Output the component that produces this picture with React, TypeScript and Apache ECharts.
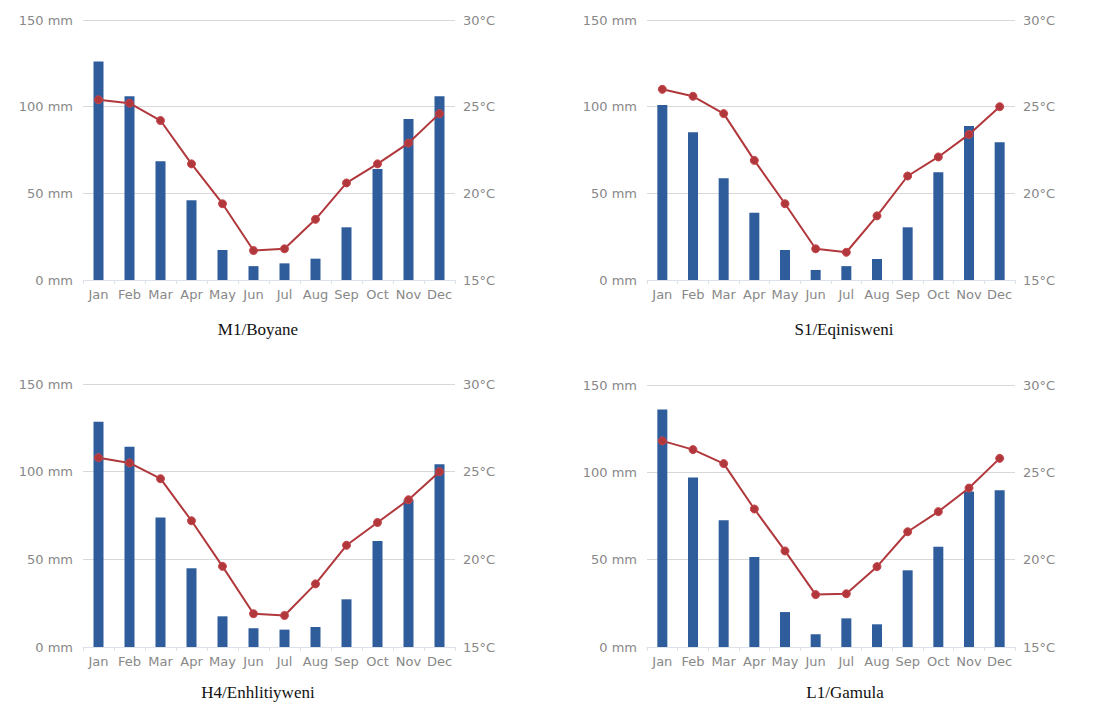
import React, { useEffect, useRef } from "react";
import * as echarts from "echarts";

const months = ["Jan", "Feb", "Mar", "Apr", "May", "Jun", "Jul", "Aug", "Sep", "Oct", "Nov", "Dec"];
const titles = ["M1/Boyane", "S1/Eqinisweni", "H4/Enhlitiyweni", "L1/Gamula"];

const rainM1 = [126, 106, 68.5, 46, 17.3, 8, 9.6, 12.3, 30.4, 64, 92.9, 106];
const rainS1 = [101, 85.2, 58.7, 38.8, 17.3, 5.8, 8, 12.1, 30.4, 62.1, 88.8, 79.4];
const rainH4 = [128.5, 114.2, 73.9, 44.9, 17.5, 10.7, 9.9, 11.4, 27.2, 60.5, 84, 104.3];
const rainL1 = [136, 97, 72.5, 51.5, 20, 7.3, 16.4, 13, 43.9, 57.4, 89, 89.7];

const tempM1 = [25.4, 25.2, 24.2, 21.7, 19.4, 16.7, 16.8, 18.5, 20.6, 21.7, 22.9, 24.6];
const tempS1 = [26.0, 25.6, 24.6, 21.9, 19.4, 16.8, 16.6, 18.7, 21.0, 22.1, 23.4, 25.0];
const tempH4 = [25.8, 25.5, 24.6, 22.2, 19.6, 16.9, 16.8, 18.6, 20.8, 22.1, 23.4, 25.0];
const tempL1 = [26.8, 26.3, 25.5, 22.9, 20.5, 18.0, 18.05, 19.6, 21.6, 22.75, 24.1, 25.8];

const rainAll = [rainM1, rainS1, rainH4, rainL1];
const tempAll = [tempM1, tempS1, tempH4, tempL1];

const gridPos = [
  { left: 83, top: 20, width: 372, height: 260 },
  { left: 647, top: 20, width: 368, height: 260 },
  { left: 83, top: 384, width: 372, height: 263 },
  { left: 647, top: 385, width: 368, height: 262 },
];
const titlePos = [
  { x: 258, y: 321 },
  { x: 844, y: 321 },
  { x: 258, y: 684 },
  { x: 845, y: 684 },
];

const BAR = "#2f5d9c";
const LINE = "#b0383c";
const LABEL = "#888888";
const FONT = "DejaVu Sans";

export default function App() {
  const ref = useRef<HTMLDivElement>(null);
  useEffect(() => {
    if (!ref.current) return;
    const chart = echarts.init(ref.current, null, { renderer: "svg" });
    const grid: any[] = [];
    const xAxis: any[] = [];
    const yAxis: any[] = [];
    const series: any[] = [];
    const title: any[] = [];
    for (let i = 0; i < 4; i++) {
      grid.push({ ...gridPos[i], containLabel: false });
      xAxis.push({
        type: "category",
        gridIndex: i,
        data: months,
        axisLine: { show: true, lineStyle: { color: "#dde2ea" } },
        axisTick: { show: true, length: 4, lineStyle: { color: "#dde2ea" } },
        axisLabel: { interval: 0, color: LABEL, fontFamily: FONT, fontSize: 13, margin: 8 },
      });
      yAxis.push({
        type: "value",
        gridIndex: i,
        min: 0,
        max: 150,
        interval: 50,
        axisLine: { show: false },
        axisTick: { show: false },
        axisLabel: { formatter: "{value} mm", color: LABEL, fontFamily: FONT, fontSize: 13, margin: 10 },
        splitLine: { show: true, lineStyle: { color: "#d8d8d8", width: 1 } },
      });
      yAxis.push({
        type: "value",
        gridIndex: i,
        position: "right",
        min: 15,
        max: 30,
        interval: 5,
        axisLine: { show: false },
        axisTick: { show: false },
        axisLabel: { formatter: "{value}°C", color: LABEL, fontFamily: FONT, fontSize: 13, margin: 8 },
        splitLine: { show: false },
      });
      series.push({
        type: "bar",
        xAxisIndex: i,
        yAxisIndex: 2 * i,
        data: rainAll[i],
        barWidth: 10,
        itemStyle: { color: BAR },
        z: 2,
      });
      series.push({
        type: "line",
        xAxisIndex: i,
        yAxisIndex: 2 * i + 1,
        data: tempAll[i],
        symbol: "circle",
        symbolSize: 8,
        lineStyle: { color: LINE, width: 2 },
        itemStyle: { color: LINE, borderColor: "#c7454a", borderWidth: 1 },
        z: 3,
      });
      title.push({
        text: titles[i],
        left: titlePos[i].x,
        top: titlePos[i].y,
        padding: 0,
        textAlign: "center",
        textStyle: { fontFamily: "Liberation Serif", fontWeight: "normal", fontSize: 17, color: "#111" },
      });
    }
    chart.setOption({
      animation: false,
      backgroundColor: "#ffffff",
      title,
      grid,
      xAxis,
      yAxis,
      series,
    });
    return () => chart.dispose();
  }, []);
  return (
    <div
      ref={ref}
      style={{ position: "fixed", left: 0, top: 0, width: 1093, height: 709 }}
    />
  );
}
